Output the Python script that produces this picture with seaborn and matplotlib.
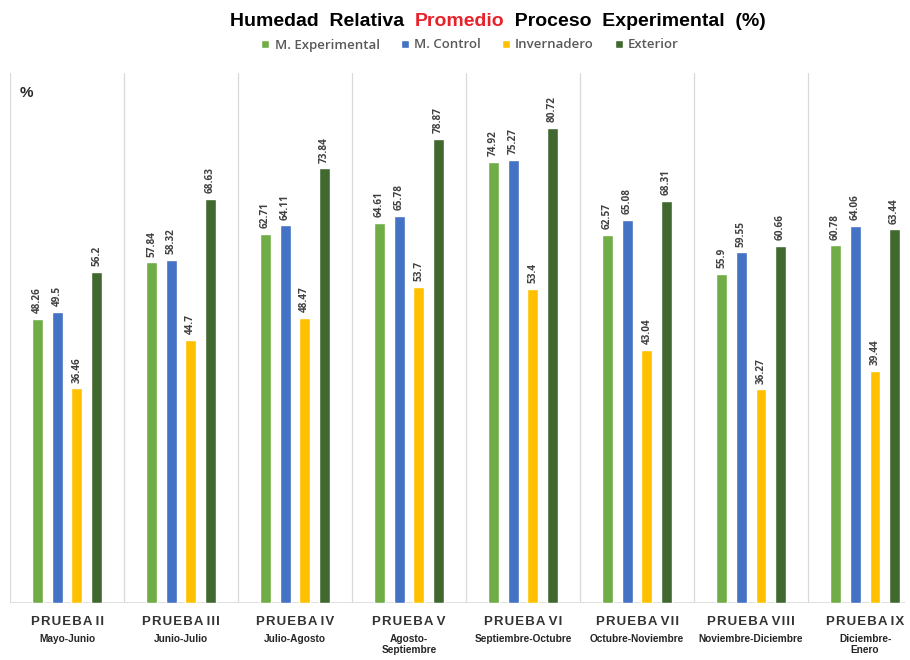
import matplotlib
matplotlib.use("Agg")
import matplotlib.pyplot as plt
import seaborn as sns
import pandas as pd

# Series values per test period
pruebas = ["PRUEBA II", "PRUEBA III", "PRUEBA IV", "PRUEBA V",
           "PRUEBA VI", "PRUEBA VII", "PRUEBA VIII", "PRUEBA IX"]
periodos = ["Mayo-Junio", "Junio-Julio", "Julio-Agosto", "Agosto-\nSeptiembre",
            "Septiembre-Octubre", "Octubre-Noviembre", "Noviembre-Diciembre",
            "Diciembre-\nEnero"]
series = ["M. Experimental", "M. Control", "Invernadero", "Exterior"]

m_experimental = [48.26, 57.84, 62.71, 64.61, 74.92, 62.57, 55.9, 60.78]
m_control = [49.5, 58.32, 64.11, 65.78, 75.27, 65.08, 59.55, 64.06]
invernadero = [36.46, 44.7, 48.47, 53.7, 53.4, 43.04, 36.27, 39.44]
exterior = [56.2, 68.63, 73.84, 78.87, 80.72, 68.31, 60.66, 63.44]

colores = ["#70AD47", "#4472C4", "#FFC000", "#41692F"]

rows = []
for nombre, valores in zip(series, [m_experimental, m_control, invernadero, exterior]):
    for p, v in zip(pruebas, valores):
        rows.append({"prueba": p, "serie": nombre, "valor": v})
df = pd.DataFrame(rows)

sns.set_theme(style="white")
plt.rcParams["font.family"] = ["Liberation Sans", "DejaVu Sans"]

fig = plt.figure(figsize=(9.1, 6.6), dpi=100)
ax = fig.add_axes([10 / 910, 57 / 660, 895 / 910, 530 / 660])

sns.barplot(data=df, x="prueba", y="valor", hue="serie", order=pruebas,
            hue_order=series, palette=colores, width=0.69, gap=0.45,
            saturation=1, errorbar=None, ax=ax, legend=True)

ax.set_xlim(-0.5, 7.35)
ax.set_ylim(0, 90)
for s in ax.spines.values():
    s.set_visible(False)
ax.set_yticks([])
ax.set_xticks([])
ax.set_xlabel("")
ax.set_ylabel("")

# group separators and baseline
for i in range(8):
    ax.axvline(i - 0.5, color="#d9d9d9", lw=0.9, zorder=0)
ax.axhline(0, color="#d9d9d9", lw=1.2, zorder=0)

# value labels above each bar
for cont, valores in zip(ax.containers, [m_experimental, m_control, invernadero, exterior]):
    ax.bar_label(cont, labels=[f"{v:g}" for v in valores], rotation=90,
                 padding=4, fontsize=7.2, fontweight="bold", color="#404040",
                 family=["Open Sans", "DejaVu Sans"])


def espaciado(texto):
    # spread the letters of a label with hair spaces
    return " ".join("\u200a".join(palabra) for palabra in texto.split(" "))


# category labels under the axis
trans = ax.get_xaxis_transform()
for i, (p, per) in enumerate(zip(pruebas, periodos)):
    ax.text(i, -19 / 530, espaciado(p), transform=trans, ha="center",
            va="center", fontsize=9.5, fontweight="bold", color="#333333",
            family=["Liberation Sans", "DejaVu Sans"])
    ax.text(i, -31 / 530, per, transform=trans, ha="center", va="top",
            fontsize=7.3, fontweight="bold", color="#262626", linespacing=1.15)

# legend
handles, labels = ax.get_legend_handles_labels()
ax.get_legend().remove()
fig.legend(handles, labels, ncol=4, loc="center",
           bbox_to_anchor=(470 / 910, 1 - 45 / 660), frameon=False,
           handlelength=0.6, handleheight=0.6, handletextpad=0.4,
           columnspacing=1.6, labelcolor="#595959",
           prop={"family": ["Open Sans", "DejaVu Sans"], "size": 9.5,
                 "weight": "semibold"})

# multi-colour title
partes = [("Humedad  Relativa  ", "#000000"), ("Promedio", "#E8222A"),
          ("  Proceso  Experimental  (%)", "#000000")]
textos = [fig.text(0, 1 - 21 / 660, t, color=c, fontsize=14,
                   fontweight="bold", va="center", ha="left")
          for t, c in partes]
fig.canvas.draw()
r = fig.canvas.get_renderer()
anchos = [t.get_window_extent(r).width for t in textos]
x0 = 498 - sum(anchos) / 2
for t, w in zip(textos, anchos):
    t.set_x(x0 / 910)
    x0 += w

fig.text(20 / 910, 1 - 93 / 660, "%", fontsize=11, fontweight="bold",
         color="#262626", va="center", ha="left")

fig.savefig("out.png", dpi=100, facecolor="white")
